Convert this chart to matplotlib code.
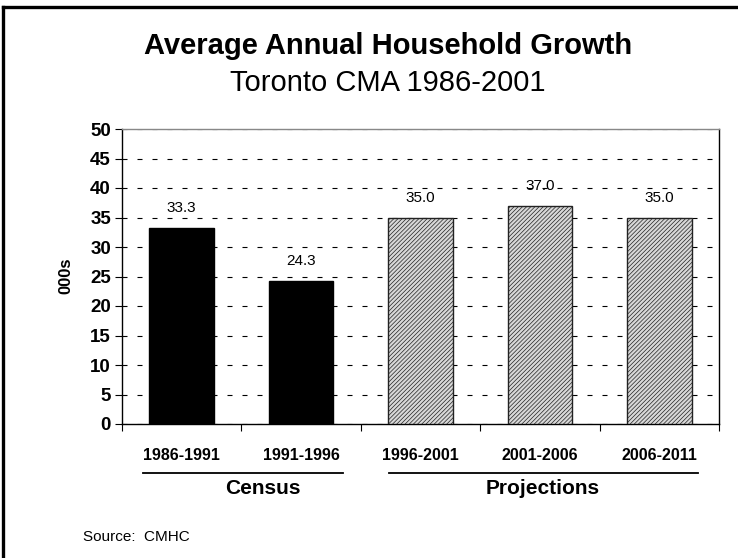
import matplotlib.pyplot as plt

plt.rcParams['font.family'] = ['Liberation Sans', 'DejaVu Sans']
plt.rcParams['hatch.linewidth'] = 0.5
plt.rcParams['hatch.color'] = '#6a6a6a'

periods = ['1986-1991', '1991-1996', '1996-2001', '2001-2006', '2006-2011']
households = [33.3, 24.3, 35.0, 37.0, 35.0]
census = [True, True, False, False, False]
groups = ['Census', 'Projections']

fig = plt.figure(figsize=(7.38, 5.58), dpi=100)
W, H = 738, 558
ax = fig.add_axes([122 / W, 1 - 424 / H, (719 - 122) / W, (424 - 129) / H])

xs = list(range(len(periods)))
for x, v, c in zip(xs, households, census):
    if c:
        ax.bar(x, v, width=0.54, color='black', edgecolor='black', linewidth=1, zorder=3)
    else:
        ax.bar(x, v, width=0.54, color='#d8d8d8', edgecolor='#222222', linewidth=1,
               hatch='////////', zorder=3)
    ax.text(x, v + 3.3, f'{v:.1f}', ha='center', va='center', fontsize=11, zorder=4)

ax.set_xlim(-0.5, len(periods) - 0.5)
ax.set_ylim(0, 50)
ax.set_yticks(range(0, 51, 5))
ax.set_yticklabels([str(t) for t in range(0, 51, 5)], fontsize=13.5, fontweight='bold')
ax.yaxis.grid(True, linestyle=(0, (4.5, 9)), color='black', linewidth=0.8, zorder=0)
ax.set_axisbelow(True)

ax.set_xticks([i + 0.5 for i in range(-1, len(periods))])
ax.set_xticklabels([])
ax.set_xticks(xs, minor=True)
ax.set_xticklabels(periods, minor=True, fontsize=11.5, fontweight='bold')
ax.tick_params(axis='x', which='minor', length=0, pad=17)
ax.tick_params(axis='x', which='major', length=5, direction='out')
ax.tick_params(axis='y', length=5, direction='out', pad=3)

for s in ax.spines.values():
    s.set_linewidth(1)
ax.spines['top'].set_color('#888888')

fig.text(66 / W, 1 - 276 / H, '000s', rotation=90, ha='center', va='center',
         fontsize=12, fontweight='bold')

# group underlines and labels below the categories
fig.add_artist(plt.Line2D([143 / W, 343 / W], [1 - 473 / H] * 2, color='black', lw=1.3))
fig.add_artist(plt.Line2D([389 / W, 698 / W], [1 - 473 / H] * 2, color='black', lw=1.3))
fig.text(263 / W, 1 - 489 / H, groups[0], ha='center', va='center', fontsize=15, fontweight='bold')
fig.text(543 / W, 1 - 489 / H, groups[1], ha='center', va='center', fontsize=15, fontweight='bold')

fig.text(388 / W, 1 - 46 / H, 'Average Annual Household Growth', ha='center', va='center',
         fontsize=21, fontweight='bold')
fig.text(388 / W, 1 - 83 / H, 'Toronto CMA 1986-2001', ha='center', va='center', fontsize=21)
fig.text(83 / W, 1 - 537 / H, 'Source:  CMHC', ha='left', va='center', fontsize=11)

# outer frame along top and left edges
fig.add_artist(plt.Line2D([3 / W, 1], [1 - 6.5 / H] * 2, color='black', lw=2.4))
fig.add_artist(plt.Line2D([3 / W] * 2, [0, 1 - 6.5 / H], color='black', lw=2.4))

fig.savefig('out.png', dpi=100)
